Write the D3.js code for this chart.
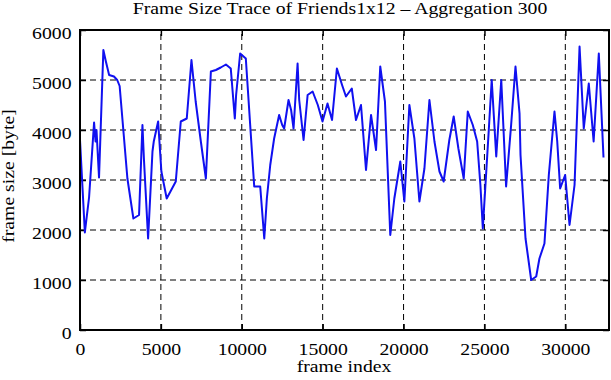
<!DOCTYPE html>
<html>
<head>
<meta charset="utf-8">
<script src="https://cdn.jsdelivr.net/npm/d3@7"></script>
<style>
  body { margin: 0; background: #fff; }
  svg { display: block; font-family: "Liberation Serif", "DejaVu Serif", serif; }
</style>
</head>
<body>
<div id="chart"></div>
<script>
/// DATA

const frames = [
  0, 300, 560, 870, 960, 1020, 1176, 1444, 1600, 1800, 2100, 2300, 2450, 2930,
  3300, 3650, 3860, 3950, 4210, 4480, 4560, 4830, 5030, 5360, 5920, 6230, 6600,
  6890, 7150, 7470, 7780, 8090, 8400, 8700, 9020, 9320, 9570, 9650, 9900, 10250,
  10770, 11140, 11390, 11550, 11760, 12000, 12310, 12500, 12620, 12890, 13050,
  13200, 13450, 13550, 13820, 14070, 14380, 14700, 14990, 15300, 15580, 15880,
  16200, 16440, 16800, 17060, 17370, 17680, 17990, 18300, 18560, 18850, 19180,
  19430, 19800, 20050, 20360, 20670, 20980, 21290, 21600, 21910, 22220, 22480,
  22830, 23100, 23390, 23720, 23970, 24280, 24550, 24750, 24900, 25250, 25450,
  25730, 26040, 26340, 26650, 26920, 27170, 27230, 27540, 27890, 28200, 28400,
  28710, 28980, 29330, 29500, 29680, 29990, 30260, 30570, 30880, 31140, 31450,
  31750, 32070, 32360,
]
const frameSizes = [
  3800, 1950, 2650, 4150, 3770, 4000, 3050, 5600, 5370, 5100, 5070, 5000, 4880, 3030,
  2230, 2300, 4100, 3430, 1830, 3570, 3770, 4170, 3170, 2630, 2970, 4170, 4230,
  5400, 4570, 3770, 3030, 5170, 5200, 5250, 5310, 5230, 4230, 4700, 5530, 5430,
  2870, 2870, 1830, 2630, 3300, 3830, 4300, 4100, 4030, 4600, 4400,
  4030, 5330, 4600, 3800, 4700, 4770, 4500, 4170, 4530, 4200, 5230,
  4900, 4670, 4830, 4200, 4500, 3200, 4300, 3600, 5270, 4570, 1900,
  2630, 3370, 2570, 4500, 3830, 2570, 3230, 4600, 3770, 3170, 2970,
  3800, 4270, 3630, 3030, 4370, 4100, 3770, 2900, 2030, 3900, 5000,
  3470, 5000, 2870, 4100, 5270, 4330, 3500, 1830, 1000, 1070, 1430,
  1730, 3100, 4370, 3770, 2830, 3100, 2100, 2900, 5670, 4030, 4930,
  3770, 5530, 3450,
]
const xTicks = [0, 5000, 10000, 15000, 20000, 25000, 30000]
const yTicks = [0, 1000, 2000, 3000, 4000, 5000, 6000]

const trace = frames.map((f, i) => ({ frame: f, size: frameSizes[i] }))

const width = 611
const height = 380
const margins = { top: 30, right: 2, bottom: 50, left: 80 }
const stretch = 1.16 // the original font is a bit wider than Liberation Serif

/// SCALES

const xScale = d3
  .scaleLinear()
  .domain([0, 32700])
  .range([margins.left, width - margins.right])

const yScale = d3
  .scaleLinear()
  .domain([0, 6000])
  .range([height - margins.bottom, margins.top])

const svg = d3
  .select("#chart")
  .append("svg")
  .attr("width", width)
  .attr("height", height)
  .attr("viewBox", [0, 0, width, height])

// grid
svg
  .append("g")
  .selectAll("line")
  .data(yTicks.filter((d) => d > 0 && d < 6000))
  .join("line")
  .attr("x1", xScale.range()[0])
  .attr("x2", xScale.range()[1])
  .attr("y1", (d) => yScale(d))
  .attr("y2", (d) => yScale(d))
  .attr("stroke", "#000")
  .attr("stroke-width", 1)
  .attr("stroke-dasharray", "6,4")

svg
  .append("g")
  .selectAll("line")
  .data(xTicks.filter((d) => d > 0))
  .join("line")
  .attr("x1", (d) => xScale(d))
  .attr("x2", (d) => xScale(d))
  .attr("y1", yScale.range()[0])
  .attr("y2", yScale.range()[1])
  .attr("stroke", "#000")
  .attr("stroke-width", 1)
  .attr("stroke-dasharray", "6,4")

/// AXES (ticks inside, mirrored)

const xAxisGenerator = d3.axisBottom(xScale).tickValues(xTicks).tickSizeInner(-6).tickSizeOuter(0).tickFormat(d3.format("d"))
const yAxisGenerator = d3.axisLeft(yScale).tickValues(yTicks).tickSizeInner(-6).tickSizeOuter(0).tickFormat(d3.format("d"))

const xAxis = svg
  .append("g")
  .attr("transform", `translate(0,${height - margins.bottom})`)
  .call(xAxisGenerator)
const yAxis = svg
  .append("g")
  .attr("transform", `translate(${margins.left},0)`)
  .call(yAxisGenerator)
svg
  .append("g")
  .attr("transform", `translate(0,${margins.top})`)
  .call(d3.axisTop(xScale).tickValues(xTicks).tickSizeInner(-6).tickSizeOuter(0).tickFormat(""))
svg
  .append("g")
  .attr("transform", `translate(${width - margins.right},0)`)
  .call(d3.axisRight(yScale).tickValues(yTicks).tickSizeInner(-6).tickSizeOuter(0).tickFormat(""))

svg.selectAll(".domain").remove()
svg.selectAll(".tick line").attr("stroke", "#000").attr("stroke-width", 1.5)
svg
  .selectAll(".tick text")
  .attr("fill", "#000")
  .style("font-family", "Liberation Serif")
  .style("font-size", "17px")

xAxis.selectAll(".tick text").attr("y", 25).attr("dy", 0).attr("transform", `scale(${stretch},1)`)
yAxis
  .selectAll(".tick text")
  .attr("x", -8.5 / stretch)
  .attr("y", 8.7)
  .attr("dy", 0)
  .attr("transform", `scale(${stretch},1)`)

/// LINE

const lineGenerator = d3
  .line()
  .x((d) => xScale(d.frame))
  .y((d) => yScale(d.size))

svg
  .append("path")
  .datum(trace)
  .attr("d", lineGenerator)
  .attr("fill", "none")
  .attr("stroke", "#1010f0")
  .attr("stroke-width", 2)
  .attr("stroke-linejoin", "round")

// frame
svg
  .append("rect")
  .attr("x", margins.left)
  .attr("y", margins.top)
  .attr("width", width - margins.left - margins.right)
  .attr("height", height - margins.top - margins.bottom)
  .attr("fill", "none")
  .attr("stroke", "#000")
  .attr("stroke-width", 2)

/// LABELS

const label = (x, y, rot, txt) =>
  svg
    .append("text")
    .attr("transform", `translate(${x},${y}) rotate(${rot}) scale(${stretch},1)`)
    .attr("text-anchor", "middle")
    .style("font-size", "17px")
    .text(txt)

label(340, 13.5, 0, "Frame Size Trace of Friends1x12 \u2013 Aggregation 300")
label(344, 372, 0, "frame index")

svg
  .append("text")
  .attr("transform", `translate(13.5,176) rotate(-90) scale(${stretch},1)`)
  .attr("text-anchor", "middle")
  .style("font-size", "17px")
  .text("frame size [byte]")
</script>
</body>
</html>
